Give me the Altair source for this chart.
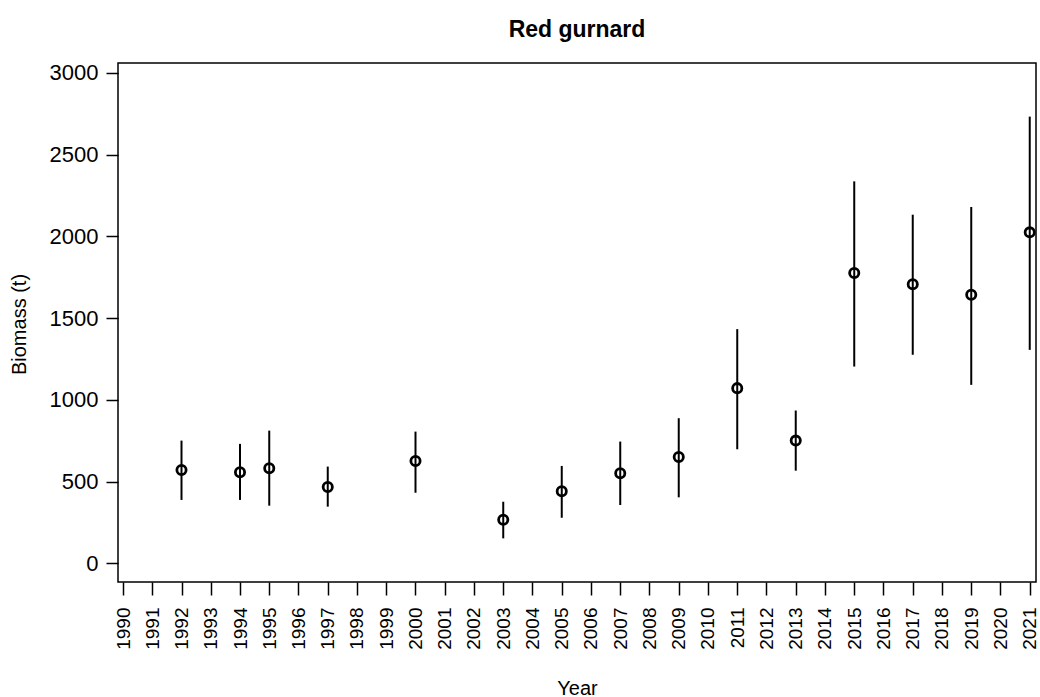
import altair as alt
import pandas as pd

# Survey biomass index for red gurnard, with lower/upper interval bounds
years = [1992, 1994, 1995, 1997, 2000, 2003, 2005, 2007, 2009, 2011, 2013, 2015, 2017, 2019, 2021]
biomass = [571, 557, 582, 467, 626, 267, 441, 551, 651, 1072, 751, 1776, 1708, 1643, 2025]
lower = [388, 388, 353, 347, 432, 153, 279, 357, 404, 698, 567, 1204, 1276, 1092, 1306]
upper = [751, 731, 812, 592, 806, 377, 596, 745, 888, 1433, 935, 2337, 2133, 2180, 2733]

year_ticks = list(range(1990, 2022))
biomass_ticks = [0, 500, 1000, 1500, 2000, 2500, 3000]

df = pd.DataFrame({"Year": years, "Biomass": biomass, "Lower": lower, "Upper": upper})

FONT = "Liberation Sans"

x = alt.X(
    "Year:Q",
    scale=alt.Scale(domain=[1989.829, 2021.214], nice=False, zero=False),
    axis=alt.Axis(
        values=year_ticks,
        format="d",
        title="Year",
        labelAngle=270,
        labelAlign="right",
        labelBaseline="middle",
        labelFontSize=19,
        labelPadding=12,
        labelFlush=False,
        labelOverlap=False,
        labelColor="black",
        tickSize=13,
        tickWidth=1.5,
        tickColor="black",
        domain=False,
        grid=False,
        titleFontSize=20,
        titleFontWeight="normal",
        titleColor="black",
        titleAlign="center",
        titleX=459,
        titleY=106,
        titleBaseline="middle",
    ),
)

y_axis = alt.Axis(
    values=biomass_ticks,
    format="d",
    title="Biomass (t)",
    labelFontSize=22,
    labelPadding=8,
    labelColor="black",
    labelBaseline="middle",
    tickSize=12,
    tickWidth=1.5,
    tickColor="black",
    domain=False,
    grid=False,
    titleFontSize=20,
    titleFontWeight="normal",
    titleColor="black",
    titleAngle=270,
    titleAlign="center",
    titleX=-99,
    titleY=261,
    titleBaseline="middle",
)
y_scale = alt.Scale(domain=[-114, 3061], nice=False, zero=False)

bars = alt.Chart(df).mark_rule(color="black", strokeWidth=2).encode(
    x=x,
    y=alt.Y("Lower:Q", scale=y_scale, axis=y_axis),
    y2="Upper:Q",
)

points = alt.Chart(df).mark_point(
    shape="circle", filled=False, color="black", size=85, strokeWidth=2.8, opacity=1
).encode(
    x=x,
    y=alt.Y("Biomass:Q", scale=y_scale, axis=y_axis),
)

chart = (
    alt.layer(bars, points)
    .properties(
        width=918,
        height=519,
        autosize=alt.AutoSizeParams(type="none"),
        padding={"left": 118, "top": 63, "right": 4, "bottom": 115},
        title=alt.TitleParams(
            "Red gurnard",
            fontSize=23,
            fontWeight="bold",
            font=FONT,
            color="black",
            anchor="middle",
            offset=20,
        ),
    )
    .configure(font=FONT, background="white")
    .configure_view(stroke="black", strokeWidth=1.5)
)

chart.save("out.html", embed_options={"renderer": "svg", "actions": False})
